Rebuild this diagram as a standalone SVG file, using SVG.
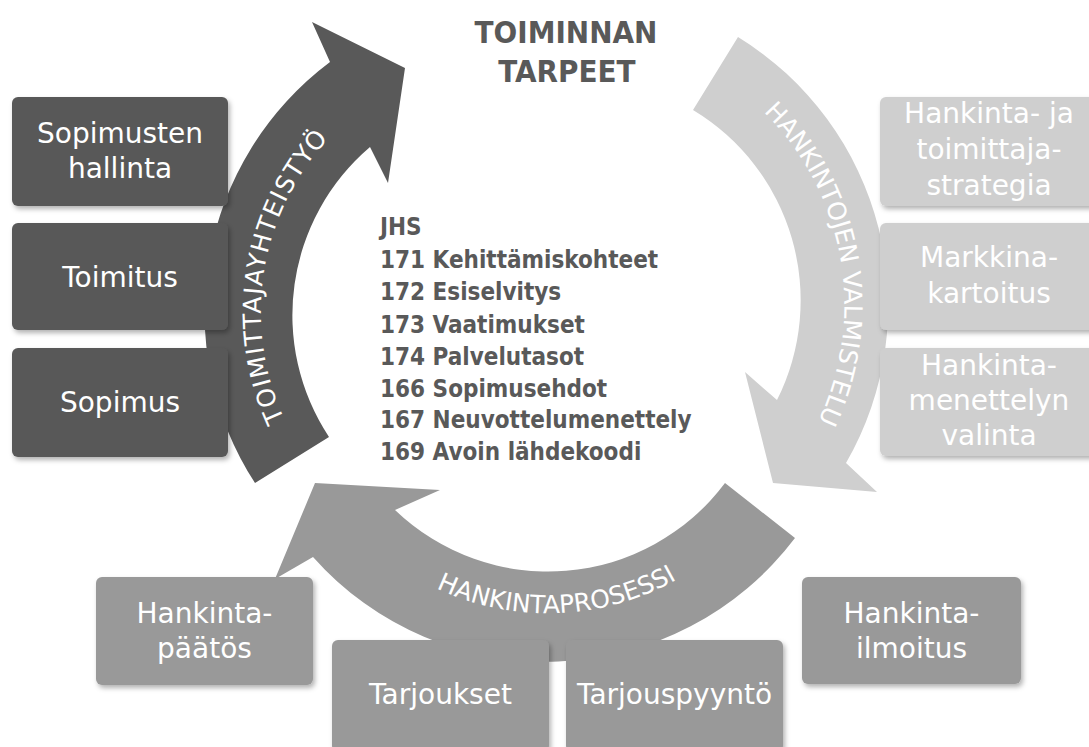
<svg xmlns="http://www.w3.org/2000/svg" width="1089" height="747" viewBox="0 0 1089 747">
<defs>
<filter id="sh" x="-10%" y="-10%" width="130%" height="140%">
<feDropShadow dx="2" dy="3" stdDeviation="2.5" flood-color="#000" flood-opacity="0.3"/>
</filter>
<path id="tp-dark" d="M 455.1,560.4 A 256 256 0 0 1 534.9,56.6"/>
<path id="tp-light" d="M 549.4,35 A 271 271 0 0 1 643.1,566.8"/>
<path id="tp-mid" d="M 288,383.4 A 262 262 0 0 0 809.7,364.3"/>
</defs>
<style>
.bd{fill:#595959;filter:url(#sh)}
.bm{fill:#999999;filter:url(#sh)}
.bl{fill:#cfcfcf;filter:url(#sh)}
.bt{font-family:"DejaVu Sans",sans-serif;font-size:28px;fill:#ffffff;text-anchor:middle}
.arc{font-family:"DejaVu Sans",sans-serif;font-size:25px;fill:#ffffff}
.list{font-family:"DejaVu Sans Condensed","DejaVu Sans",sans-serif;font-stretch:condensed;font-weight:bold;font-size:24px;fill:#595959}
.title{font-family:"DejaVu Sans Condensed","DejaVu Sans",sans-serif;font-stretch:condensed;font-weight:bold;font-size:31px;fill:#595959;text-anchor:middle}
</style>
<rect width="1089" height="747" fill="#ffffff"/>

<g id="connectors">
<g id="arrow-toimittajayhteistyo">
<path fill="#595959" d="M255,483 A313,313 0 0 1 330,62 L312,22 L405,68 L388,183 L370,147 A221,221 0 0 0 329,437 Z"/>
<text class="arc" letter-spacing="1.4"><textPath href="#tp-dark" startOffset="50%" text-anchor="middle">TOIMITTAJAYHTEISTYÖ</textPath></text>
</g>
<g id="arrow-hankintojen-valmistelu">
<path fill="#cfcfcf" d="M693,110 L738,37 A315,315 0 0 1 846,463 L877,492 L773,483 L745,372 L777,400 A222,222 0 0 0 693,110 Z"/>
<text class="arc"><textPath href="#tp-light" startOffset="50%" text-anchor="middle">HANKINTOJEN VALMISTELU</textPath></text>
</g>
<g id="arrow-hankintaprosessi">
<path fill="#999999" d="M725,483 L795,538 A312,312 0 0 1 313,557 L275,579 L315,483 L440,490 L395,510 A221,221 0 0 0 725,483 Z"/>
<text class="arc"><textPath href="#tp-mid" startOffset="50%" text-anchor="middle">HANKINTAPROSESSI</textPath></text>
</g>
</g>

<g id="title">
<text class="title" x="566" y="43">TOIMINNAN</text>
<text class="title" x="567" y="82">TARPEET</text>
</g>

<g id="jhs-list">
<text class="list" x="380" y="235">JHS</text>
<text class="list" x="380" y="268">171 Kehittämiskohteet</text>
<text class="list" x="380" y="300">172 Esiselvitys</text>
<text class="list" x="380" y="333">173 Vaatimukset</text>
<text class="list" x="380" y="365">174 Palvelutasot</text>
<text class="list" x="380" y="397">166 Sopimusehdot</text>
<text class="list" x="380" y="428">167 Neuvottelumenettely</text>
<text class="list" x="380" y="460">169 Avoin lähdekoodi</text>
</g>

<g id="sopimusten-hallinta">
<rect class="bd" x="12" y="97" width="216" height="109" rx="6"/>
<text class="bt" x="120" y="143">Sopimusten</text>
<text class="bt" x="120" y="178">hallinta</text>
</g>
<g id="toimitus">
<rect class="bd" x="12" y="223" width="216" height="107" rx="6"/>
<text class="bt" x="120" y="287">Toimitus</text>
</g>
<g id="sopimus">
<rect class="bd" x="12" y="348" width="216" height="109" rx="6"/>
<text class="bt" x="120" y="412">Sopimus</text>
</g>

<g id="hankinta-ja-toimittajastrategia">
<rect class="bl" x="880" y="97" width="218" height="109" rx="6"/>
<text class="bt" x="989" y="123">Hankinta- ja</text>
<text class="bt" x="989" y="159">toimittaja-</text>
<text class="bt" x="989" y="195">strategia</text>
</g>
<g id="markkinakartoitus">
<rect class="bl" x="880" y="223" width="218" height="107" rx="6"/>
<text class="bt" x="989" y="267">Markkina-</text>
<text class="bt" x="989" y="303">kartoitus</text>
</g>
<g id="hankintamenettelyn-valinta">
<rect class="bl" x="880" y="348" width="218" height="108" rx="6"/>
<text class="bt" x="989" y="375">Hankinta-</text>
<text class="bt" x="989" y="410">menettelyn</text>
<text class="bt" x="989" y="445">valinta</text>
</g>

<g id="hankintapaatos">
<rect class="bm" x="96" y="577" width="217" height="108" rx="6"/>
<text class="bt" x="204.5" y="623">Hankinta-</text>
<text class="bt" x="204.5" y="658">päätös</text>
</g>
<g id="tarjoukset">
<rect class="bm" x="332" y="640" width="217" height="112" rx="6"/>
<text class="bt" x="440.5" y="704">Tarjoukset</text>
</g>
<g id="tarjouspyynto">
<rect class="bm" x="566" y="640" width="217" height="112" rx="6"/>
<text class="bt" x="674.5" y="704">Tarjouspyyntö</text>
</g>
<g id="hankintailmoitus">
<rect class="bm" x="802" y="577" width="219" height="107" rx="6"/>
<text class="bt" x="911.5" y="623">Hankinta-</text>
<text class="bt" x="911.5" y="658">ilmoitus</text>
</g>
</svg>
